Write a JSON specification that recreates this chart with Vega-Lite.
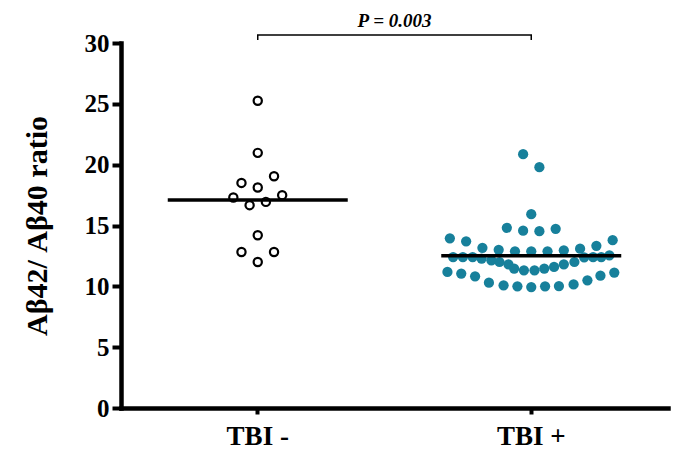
{
  "$schema": "https://vega.github.io/schema/vega-lite/v6.json",
  "width": 547,
  "height": 365,
  "autosize": "none",
  "padding": {"left": 121, "top": 43, "right": 6, "bottom": 48},
  "background": "white",
  "config": {
    "view": {"stroke": null},
    "font": "Liberation Serif",
    "axis": {
      "domainColor": "black",
      "domainWidth": 4.5,
      "domainCap": "square",
      "tickColor": "black",
      "tickWidth": 4,
      "grid": false,
      "labelFont": "Liberation Serif",
      "labelFontWeight": "bold",
      "labelColor": "black",
      "titleFont": "Liberation Serif",
      "titleFontWeight": "bold",
      "titleColor": "black"
    },
    "axisX": {"tickSize": 6, "labelFontSize": 27, "labelPadding": 9, "labelAngle": 0},
    "axisY": {"tickSize": 9, "labelFontSize": 25, "labelPadding": 3, "titleFontSize": 30, "titlePadding": 32}
  },
  "datasets": {
    "points": [
      {"group": "TBI -", "value": 25.25, "slot": 0},
      {"group": "TBI -", "value": 20.97, "slot": 0},
      {"group": "TBI -", "value": 19.05, "slot": 1},
      {"group": "TBI -", "value": 18.5, "slot": -1},
      {"group": "TBI -", "value": 18.12, "slot": 0},
      {"group": "TBI -", "value": 17.3, "slot": -1.5},
      {"group": "TBI -", "value": 17.49, "slot": 1.5},
      {"group": "TBI -", "value": 16.67, "slot": -0.5},
      {"group": "TBI -", "value": 16.94, "slot": 0.5},
      {"group": "TBI -", "value": 14.2, "slot": 0},
      {"group": "TBI -", "value": 12.82, "slot": -1},
      {"group": "TBI -", "value": 12.82, "slot": 1},
      {"group": "TBI -", "value": 12.0, "slot": 0},
      {"group": "TBI +", "value": 20.86, "slot": -0.5},
      {"group": "TBI +", "value": 19.79, "slot": 0.5},
      {"group": "TBI +", "value": 15.93, "slot": 0},
      {"group": "TBI +", "value": 14.81, "slot": -1.5},
      {"group": "TBI +", "value": 14.57, "slot": -0.5},
      {"group": "TBI +", "value": 14.53, "slot": 0.5},
      {"group": "TBI +", "value": 14.73, "slot": 1.5},
      {"group": "TBI +", "value": 13.95, "slot": -5},
      {"group": "TBI +", "value": 13.7, "slot": -4},
      {"group": "TBI +", "value": 13.17, "slot": -3},
      {"group": "TBI +", "value": 13.0, "slot": -2},
      {"group": "TBI +", "value": 12.88, "slot": -1},
      {"group": "TBI +", "value": 12.88, "slot": 0},
      {"group": "TBI +", "value": 12.88, "slot": 1},
      {"group": "TBI +", "value": 12.96, "slot": 2},
      {"group": "TBI +", "value": 13.09, "slot": 3},
      {"group": "TBI +", "value": 13.33, "slot": 4},
      {"group": "TBI +", "value": 13.79, "slot": 5},
      {"group": "TBI +", "value": 12.41, "slot": -4.8},
      {"group": "TBI +", "value": 12.41, "slot": -4.2},
      {"group": "TBI +", "value": 12.41, "slot": -3.6},
      {"group": "TBI +", "value": 12.28, "slot": -3.05},
      {"group": "TBI +", "value": 12.14, "slot": -2.45},
      {"group": "TBI +", "value": 12.0, "slot": -1.95},
      {"group": "TBI +", "value": 11.81, "slot": -1.4},
      {"group": "TBI +", "value": 11.46, "slot": -1.05},
      {"group": "TBI +", "value": 11.32, "slot": -0.45},
      {"group": "TBI +", "value": 11.32, "slot": 0.2},
      {"group": "TBI +", "value": 11.46, "slot": 0.8},
      {"group": "TBI +", "value": 11.59, "slot": 1.4},
      {"group": "TBI +", "value": 11.81, "slot": 2.0},
      {"group": "TBI +", "value": 12.0, "slot": 2.65},
      {"group": "TBI +", "value": 12.39, "slot": 3.25},
      {"group": "TBI +", "value": 12.41, "slot": 3.8},
      {"group": "TBI +", "value": 12.41, "slot": 4.3},
      {"group": "TBI +", "value": 12.55, "slot": 4.8},
      {"group": "TBI +", "value": 11.18, "slot": -5.15},
      {"group": "TBI +", "value": 11.05, "slot": -4.3},
      {"group": "TBI +", "value": 10.82, "slot": -3.45},
      {"group": "TBI +", "value": 10.3, "slot": -2.6},
      {"group": "TBI +", "value": 10.08, "slot": -1.7},
      {"group": "TBI +", "value": 10.0, "slot": -0.85},
      {"group": "TBI +", "value": 9.94, "slot": 0},
      {"group": "TBI +", "value": 10.0, "slot": 0.85},
      {"group": "TBI +", "value": 10.02, "slot": 1.7},
      {"group": "TBI +", "value": 10.16, "slot": 2.6},
      {"group": "TBI +", "value": 10.49, "slot": 3.45},
      {"group": "TBI +", "value": 10.88, "slot": 4.25},
      {"group": "TBI +", "value": 11.13, "slot": 5.1}
    ],
    "bracket": [
      {"group": "TBI -", "value": 30.25, "order": 1},
      {"group": "TBI -", "value": 30.66, "order": 2},
      {"group": "TBI +", "value": 30.66, "order": 3},
      {"group": "TBI +", "value": 30.25, "order": 4}
    ],
    "label": [
      {"group": "TBI -", "value": 31.3, "text": "P = 0.003"}
    ]
  },
  "encoding": {
    "x": {
      "field": "group",
      "type": "nominal",
      "sort": ["TBI -", "TBI +"],
      "scale": {"type": "band", "paddingInner": 0, "paddingOuter": 0, "domain": ["TBI -", "TBI +"]},
      "axis": {"title": null}
    },
    "y": {
      "field": "value",
      "type": "quantitative",
      "scale": {"domain": [0, 30], "nice": false, "zero": true},
      "axis": {"title": "Aβ42/ Aβ40 ratio", "values": [0, 5, 10, 15, 20, 25, 30]}
    }
  },
  "layer": [
    {
      "data": {"name": "points"},
      "transform": [{"filter": "datum.group === 'TBI -'"}],
      "mark": {"type": "point", "shape": "circle", "filled": false, "stroke": "black", "strokeWidth": 2.2, "size": 68, "opacity": 1},
      "encoding": {
        "xOffset": {"field": "slot", "type": "quantitative", "scale": {"domain": [-8.4, 8.4]}}
      }
    },
    {
      "data": {"name": "points"},
      "transform": [{"filter": "datum.group === 'TBI +'"}],
      "mark": {"type": "point", "shape": "circle", "filled": true, "color": "#17809b", "size": 105, "opacity": 1},
      "encoding": {
        "xOffset": {"field": "slot", "type": "quantitative", "scale": {"domain": [-8.4, 8.4]}}
      }
    },
    {
      "data": {"name": "points"},
      "mark": {"type": "tick", "color": "black", "size": 180, "thickness": 3.5, "orient": "horizontal"},
      "encoding": {
        "y": {"aggregate": "mean", "field": "value", "type": "quantitative", "title": "Aβ42/ Aβ40 ratio"}
      }
    },
    {
      "data": {"name": "bracket"},
      "mark": {"type": "line", "color": "black", "strokeWidth": 1.5, "clip": false},
      "encoding": {
        "order": {"field": "order", "type": "quantitative"}
      }
    },
    {
      "data": {"name": "label"},
      "mark": {"type": "text", "font": "Liberation Serif", "fontStyle": "italic", "fontWeight": "bold", "fontSize": 19, "align": "center", "baseline": "alphabetic", "color": "black", "clip": false},
      "encoding": {
        "x": {"field": "group", "type": "nominal", "bandPosition": 1, "title": null},
        "text": {"field": "text"}
      }
    }
  ]
}
